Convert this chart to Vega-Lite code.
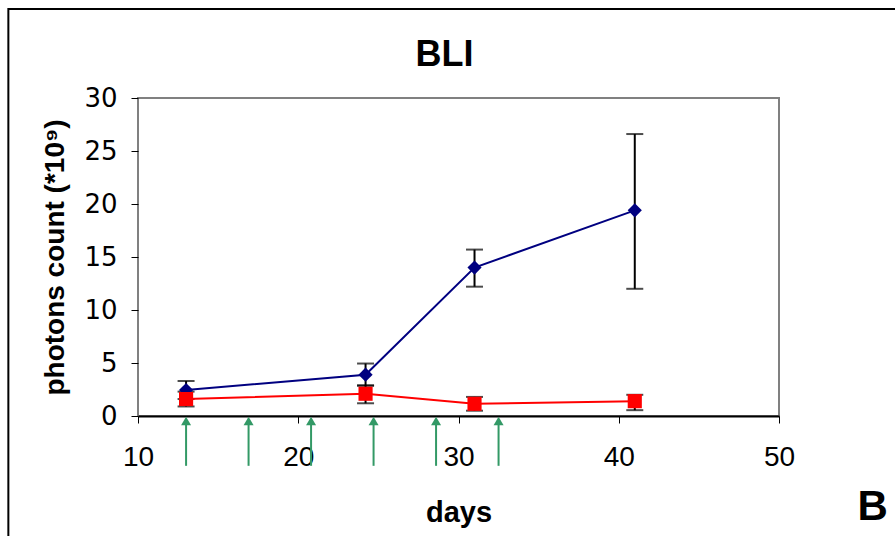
{
  "$schema": "https://vega.github.io/schema/vega-lite/v6.json",
  "width": 641,
  "height": 318,
  "autosize": {"type": "none"},
  "padding": {"left": 138, "top": 98, "right": 116, "bottom": 120},
  "background": "white",
  "title": {"text": "BLI", "frame": "group", "fontSize": 36, "font": "Liberation Sans", "fontWeight": "bold", "color": "black", "dx": -14, "offset": 0, "dy": 94, "baseline": "alphabetic"},
  "datasets": {
    "series": [
      {"group": "A", "day": 13, "mean": 2.45, "lo": 1.6, "hi": 3.3},
      {"group": "A", "day": 24.2, "mean": 3.9, "lo": 2.85, "hi": 4.95},
      {"group": "A", "day": 31, "mean": 14.0, "lo": 12.2, "hi": 15.7},
      {"group": "A", "day": 41, "mean": 19.4, "lo": 12.0, "hi": 26.6},
      {"group": "B", "day": 13, "mean": 1.6, "lo": 0.9, "hi": 2.3},
      {"group": "B", "day": 24.2, "mean": 2.1, "lo": 1.2, "hi": 2.9},
      {"group": "B", "day": 31, "mean": 1.15, "lo": 0.5, "hi": 1.8},
      {"group": "B", "day": 41, "mean": 1.4, "lo": 0.55, "hi": 2.0}
    ],
    "arrows": [
      {"day": 13}, {"day": 16.9}, {"day": 20.8}, {"day": 24.7}, {"day": 28.6}, {"day": 32.5}
    ]
  },
  "layer": [
    {
      "data": {"values": [{"label": "frame"}]},
      "mark": {"type": "rect", "fill": "transparent", "stroke": "black", "strokeWidth": 2, "clip": false},
      "encoding": {
        "x": {"datum": 1.91, "type": "quantitative", "scale": {"domain": [10, 50], "nice": false, "zero": false}, "axis": {
          "values": [10, 20, 30, 40, 50], "title": "days", "grid": false, "labelFlush": false,
          "tickSize": 7, "tickColor": "black", "tickWidth": 1, "domainColor": "black", "domainWidth": 2,
          "labelFont": "Liberation Sans", "labelFontSize": 28, "labelColor": "black", "labelPadding": 20,
          "titleFont": "Liberation Sans", "titleFontSize": 29, "titleFontWeight": "bold", "titleColor": "black", "titlePadding": 27
        }},
        "x2": {"datum": 70},
        "y": {"datum": 38.4, "type": "quantitative", "scale": {"domain": [0, 30], "nice": false}, "axis": {
          "values": [0, 5, 10, 15, 20, 25, 30], "title": "photons count (*10⁹)", "grid": false, "labelFlush": false,
          "domain": false, "tickSize": 7, "tickColor": "black", "tickWidth": 1,
          "labelFont": "DejaVu Sans", "labelFontSize": 26, "labelColor": "black", "labelPadding": 14,
          "titleFont": "Liberation Sans", "titleFontSize": 28, "titleFontWeight": "bold", "titleColor": "black", "titlePadding": 14
        }},
        "y2": {"datum": -20}
      }
    },
    {
      "data": {"name": "series"},
      "mark": {"type": "rule", "color": "black", "strokeWidth": 2},
      "encoding": {
        "x": {"field": "day", "type": "quantitative"},
        "y": {"field": "lo", "type": "quantitative"},
        "y2": {"field": "hi"}
      }
    },
    {
      "data": {"name": "series"},
      "mark": {"type": "tick", "orient": "horizontal", "size": 17, "thickness": 2, "color": "black"},
      "encoding": {
        "x": {"field": "day", "type": "quantitative"},
        "y": {"field": "lo", "type": "quantitative"}
      }
    },
    {
      "data": {"name": "series"},
      "mark": {"type": "tick", "orient": "horizontal", "size": 17, "thickness": 2, "color": "black"},
      "encoding": {
        "x": {"field": "day", "type": "quantitative"},
        "y": {"field": "hi", "type": "quantitative"}
      }
    },
    {
      "data": {"name": "series"},
      "mark": {"type": "line", "strokeWidth": 2},
      "encoding": {
        "x": {"field": "day", "type": "quantitative"},
        "y": {"field": "mean", "type": "quantitative"},
        "color": {"field": "group", "type": "nominal", "scale": {"domain": ["A", "B"], "range": ["#000080", "#ff0000"]}, "legend": null}
      }
    },
    {
      "data": {"name": "series"},
      "mark": {"type": "point", "filled": true, "opacity": 1, "size": 200},
      "encoding": {
        "x": {"field": "day", "type": "quantitative"},
        "y": {"field": "mean", "type": "quantitative"},
        "color": {"field": "group", "type": "nominal", "scale": {"domain": ["A", "B"], "range": ["#000080", "#ff0000"]}, "legend": null},
        "shape": {"field": "group", "type": "nominal", "scale": {"domain": ["A", "B"], "range": ["diamond", "square"]}, "legend": null}
      }
    },
    {
      "data": {"name": "arrows"},
      "mark": {"type": "rule", "color": "#339966", "strokeWidth": 2, "clip": false},
      "encoding": {
        "x": {"field": "day", "type": "quantitative"},
        "y": {"datum": -4.7, "type": "quantitative"},
        "y2": {"datum": -0.6}
      }
    },
    {
      "data": {"name": "arrows"},
      "mark": {"type": "point", "shape": "triangle-up", "filled": true, "opacity": 1, "color": "#339966", "size": 100, "clip": false},
      "encoding": {
        "x": {"field": "day", "type": "quantitative"},
        "y": {"datum": -0.47, "type": "quantitative"}
      }
    },
    {
      "data": {"values": [{"label": "B"}]},
      "mark": {"type": "text", "font": "Liberation Sans", "fontWeight": "bold", "fontSize": 42, "color": "black", "align": "center", "baseline": "alphabetic", "clip": false},
      "encoding": {
        "x": {"datum": 55.85, "type": "quantitative"},
        "y": {"datum": -9.81, "type": "quantitative"},
        "text": {"field": "label"}
      }
    }
  ],
  "config": {
    "view": {"stroke": "#808080", "strokeWidth": 2}
  }
}
